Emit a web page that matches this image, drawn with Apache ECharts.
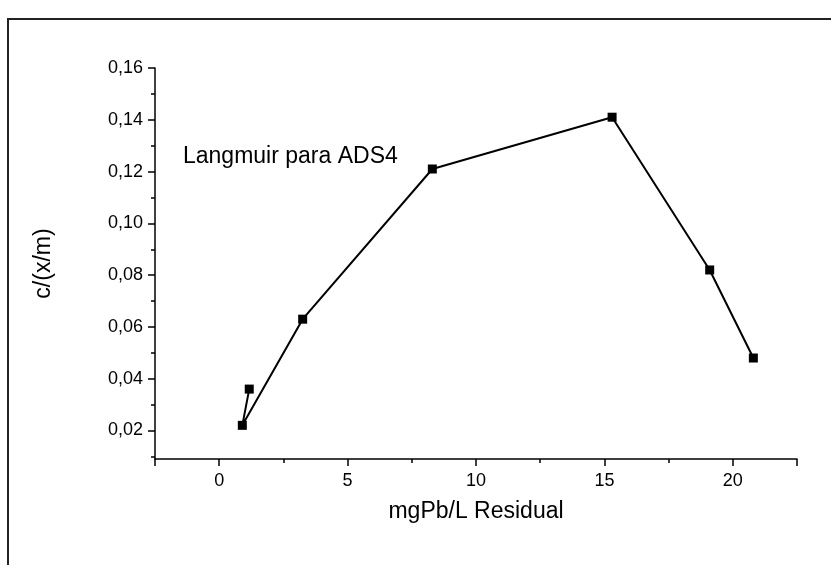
<!DOCTYPE html>
<html>
<head>
<meta charset="utf-8">
<script src="https://cdn.jsdelivr.net/npm/echarts@6/dist/echarts.min.js"></script>
<style>html,body{margin:0;padding:0;background:#fff}#c{width:831px;height:565px}</style>
</head>
<body>
<div id="c"></div>
<script>
const xValues = [1.17, 0.9, 3.25, 8.3, 15.3, 19.1, 20.8];
const yValues = [0.036, 0.022, 0.063, 0.121, 0.141, 0.082, 0.048];
const xTickLabels = [0, 5, 10, 15, 20];
const xMinorTicks = [-2.5, 2.5, 7.5, 12.5, 17.5, 22.5];
const yTickLabels = [0.02, 0.04, 0.06, 0.08, 0.10, 0.12, 0.14, 0.16];
const yMinorTicks = [0.01, 0.03, 0.05, 0.07, 0.09, 0.11, 0.13, 0.15];
const xTitle = 'mgPb/L Residual';
const yTitle = 'c/(x/m)';
const annotation = 'Langmuir para ADS4';

const FONT = 'Liberation Sans, Arial, sans-serif';
const chart = echarts.init(document.getElementById('c'), null, {renderer: 'canvas'});
const line = {show: true, onZero: false, lineStyle: {color: '#000', width: 1.5}};
chart.setOption({
  animation: false,
  backgroundColor: '#fff',
  grid: {left: 155, right: 34, top: 68, bottom: 106},
  xAxis: [{
    type: 'value', min: -2.5, max: 22.5, position: 'bottom',
    axisLine: line, splitLine: {show: false},
    axisTick: {show: true, length: 7, lineStyle: {color: '#000', width: 1.5},
      customValues: xTickLabels.concat([-2.5, 22.5])},
    axisLabel: {customValues: xTickLabels, color: '#000', fontSize: 18, fontFamily: FONT, margin: 13},
    name: xTitle, nameLocation: 'middle', nameGap: 41,
    nameTextStyle: {color: '#000', fontSize: 23, fontFamily: FONT}
  }, {
    type: 'value', min: -2.5, max: 22.5, position: 'bottom',
    axisLine: {show: false, onZero: false}, splitLine: {show: false},
    axisTick: {show: true, length: 4, lineStyle: {color: '#000', width: 1.5}, customValues: xMinorTicks},
    axisLabel: {show: false}
  }],
  yAxis: [{
    type: 'value', min: 0.009, max: 0.16, position: 'left',
    axisLine: line, splitLine: {show: false},
    axisTick: {show: true, length: 7, lineStyle: {color: '#000', width: 1.5}, customValues: yTickLabels},
    axisLabel: {customValues: yTickLabels, color: '#000', fontSize: 18, fontFamily: FONT, margin: 12,
      formatter: v => v.toFixed(2).replace('.', ',')},
    name: yTitle, nameLocation: 'middle', nameGap: 100, nameRotate: 90,
    nameTextStyle: {color: '#000', fontSize: 23, fontFamily: FONT}
  }, {
    type: 'value', min: 0.009, max: 0.16, position: 'left',
    axisLine: {show: false, onZero: false}, splitLine: {show: false},
    axisTick: {show: true, length: 4, lineStyle: {color: '#000', width: 1.5}, customValues: yMinorTicks},
    axisLabel: {show: false}
  }],
  series: [{
    type: 'line', xAxisIndex: 0, yAxisIndex: 0,
    data: xValues.map((x, i) => [x, yValues[i]]),
    symbol: 'rect', symbolSize: 9,
    itemStyle: {color: '#000'},
    lineStyle: {color: '#000', width: 2},
    showSymbol: true
  }],
  graphic: [{
    type: 'rect', shape: {x: 8, y: 19, width: 900, height: 700},
    style: {fill: 'none', stroke: '#222', lineWidth: 2}, silent: true
  }, {
    type: 'text', left: 183, top: 145,
    style: {text: annotation, fill: '#000', font: '23px ' + FONT}
  }]
});
</script>
</body>
</html>
